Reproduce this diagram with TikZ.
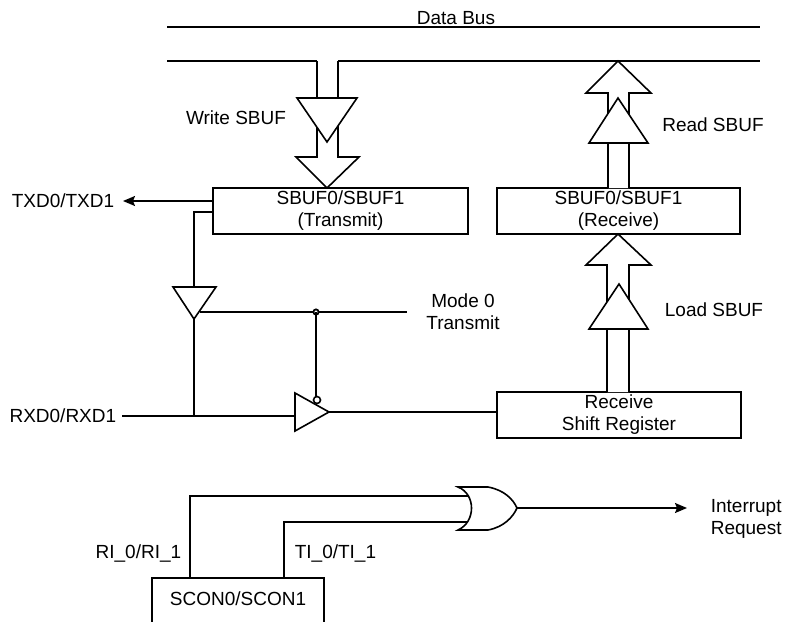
\documentclass[tikz,border=0pt]{standalone}
\usepackage{fontspec}
\setmainfont{Liberation Sans}
\usetikzlibrary{arrows.meta}
\begin{document}
\begin{tikzpicture}[x=1pt,y=-1pt, line width=1.6pt, line join=miter,
  txt/.style={inner sep=0pt, align=center, font=\fontsize{19}{22}\selectfont},
  box/.style={txt, draw, rectangle},
  gate/.style={draw, fill=white},
  arr/.style={-{Stealth[length=12pt,width=10pt,inset=2pt]}}
]
\useasboundingbox (0,0) rectangle (786,621);

% boxes
\node[box, minimum width=255pt, minimum height=46pt] (tx) at (340.5,211) {SBUF0/SBUF1\\(Transmit)};
\node[box, minimum width=243pt, minimum height=46pt] (rx) at (618.5,211) {SBUF0/SBUF1\\(Receive)};
\node[box, minimum width=244pt, minimum height=46pt] (sr) at (619,415) {Receive\\Shift Register};
\node[txt] (scon) at (238,599) {SCON0/SCON1};
\draw (152,622) -- (152,578) -- (324,578) -- (324,622);

% labels
\node[txt] (bus) at (456,18) {Data Bus};
\node[txt] (wlab) at (236,118) {Write SBUF};
\node[txt] (rlab) at (713,125) {Read SBUF};
\node[txt] (llab) at (714,310) {Load SBUF};
\node[txt] (mode) at (463,312) {Mode 0\\Transmit};
\node[txt, anchor=east] (txd) at (115,201) {TXD0/TXD1};
\node[txt, anchor=east] (rxd) at (117,416) {RXD0/RXD1};
\node[txt, anchor=east] (ri) at (182,553) {RI\_0/RI\_1};
\node[txt, anchor=west] (ti) at (294,553) {TI\_0/TI\_1};
\node[txt, anchor=west, align=left] (irq) at (710,519) {Interrupt\\Request};

% data bus lines
\draw (167,27) -- (760,27);
\draw (167,61) -- (317,61);
\draw (338,61) -- (760,61);

% write path
\draw[fill=white] (317,61) -- (317,157) -- (296,157) -- (327,188) -- (359,157) -- (338,157) -- (338,61);
\draw[gate] (297,98) -- (357,98) -- (327,142) -- cycle;

% read path
\draw[fill=white] (608,188) -- (608,93) -- (586,93) -- (618,61) -- (651,93) -- (629,93) -- (629,188);
\draw[gate] (589,143) -- (648,143) -- (618,98) -- cycle;

% load path
\draw[fill=white] (607,392) -- (607,265) -- (586,265) -- (618,234) -- (651,265) -- (629,265) -- (629,392);
\draw[gate] (589,329) -- (648,329) -- (619,284) -- cycle;

% TXD output
\coordinate (txdtip) at (123,201);
\draw[arr] (tx.west |- txdtip) -- (txdtip);

% feedback to mode-0 buffer
\coordinate (fb) at (194,212);
\draw (tx.west |- fb) -- (fb) -- (194,287);
\draw (200,312) -- (407,312);
\draw[gate] (173,287) -- (216,287) -- (194,319) -- cycle;
\coordinate (dot) at (316,312);
\draw[fill=white, line width=1.8pt] (dot) circle (2.6pt);

% RXD input
\coordinate (rxdin) at (122,416);
\coordinate (bufin) at (295,416);
\draw (rxdin) -- (bufin);
\draw (194,319) -- (194,416);

% receive buffer with inverted enable
\draw[gate] (295,393) -- (329,412) -- (295,431) -- cycle;
\draw (dot) -- (316,396.5);
\draw[fill=white] (317,400) circle (3.5pt);
\coordinate (bufout) at (329,412);
\draw (bufout) -- (bufout -| sr.west);

% interrupt logic
\draw (190,578) -- (190,496) -- (472,496);
\draw (284,578) -- (284,522) -- (472,522);
\draw[gate] (458,487) -- (488,487) .. controls (504,490) and (513,499) .. (517,508)
  .. controls (513,517) and (504,527) .. (488,530) -- (458,530)
  .. controls (476,522) and (476,494) .. (458,487) -- cycle;
\coordinate (orout) at (517,508);
\draw[arr] (orout) -- (687,508);
\end{tikzpicture}
\end{document}
